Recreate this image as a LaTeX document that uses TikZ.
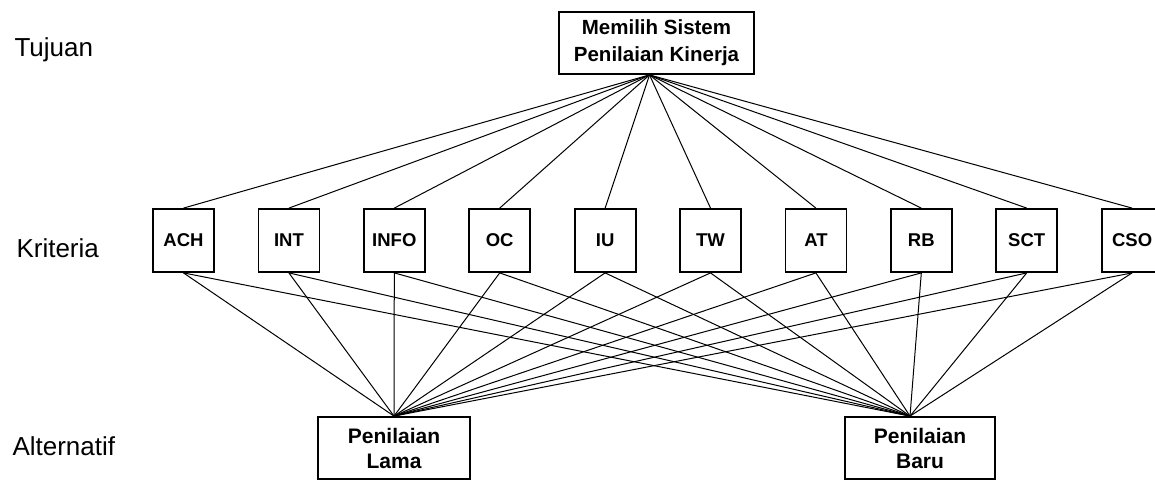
\documentclass[tikz,border=0pt]{standalone}
\usepackage{fontspec}
\setmainfont{Liberation Sans}
\usetikzlibrary{positioning}

\begin{document}
\begin{tikzpicture}[x=1pt,y=-1pt,
  tingkat/.style={anchor=base west, font=\fontsize{26}{30}\selectfont},
  kotak/.style={draw, line width=1.8pt, fill=white, inner sep=0pt, align=center, font=\bfseries\fontsize{18.5}{22}\selectfont},
  kriteria/.style={kotak, minimum width=61pt, minimum height=63pt},
  garis/.style={line width=1pt}]

\useasboundingbox (0,0) rectangle (1155,480);

\node[tingkat] (tujuan) at (11,56) {Tujuan};
\node[tingkat] (krit) at (13,257) {Kriteria};
\node[tingkat] (alt) at (9,455) {Alternatif};

\node[kotak, minimum width=195pt, minimum height=62pt, font=\bfseries\fontsize{20.5}{27}\selectfont] (goal) at (656.5,43) {Memilih Sistem\\Penilaian Kinerja};

\node[kotak, minimum width=152pt, minimum height=62pt, font=\bfseries\fontsize{21}{25}\selectfont] (lama) at (394,448) {Penilaian\\Lama};
\node[kotak, minimum width=150pt, minimum height=62pt, font=\bfseries\fontsize{21}{25}\selectfont] (baru) at (920,448) {Penilaian\\Baru};

\foreach \k [count=\i from 0] in {ACH,INT,INFO,OC,IU,TW,AT,RB,SCT,CSO}
{\node[kriteria] (\k) at ({183.5+105.4*\i},240.5) {\k};}

\foreach \k in {ACH,INT,INFO,OC,IU,TW,AT,RB,SCT,CSO}
{\draw[garis] ([xshift=-7pt]goal.south) -- (\k.north);
 \draw[garis] (\k.south) -- (lama.north);
 \draw[garis] (\k.south) -- ([xshift=-10pt]baru.north);}

\end{tikzpicture}
\end{document}
